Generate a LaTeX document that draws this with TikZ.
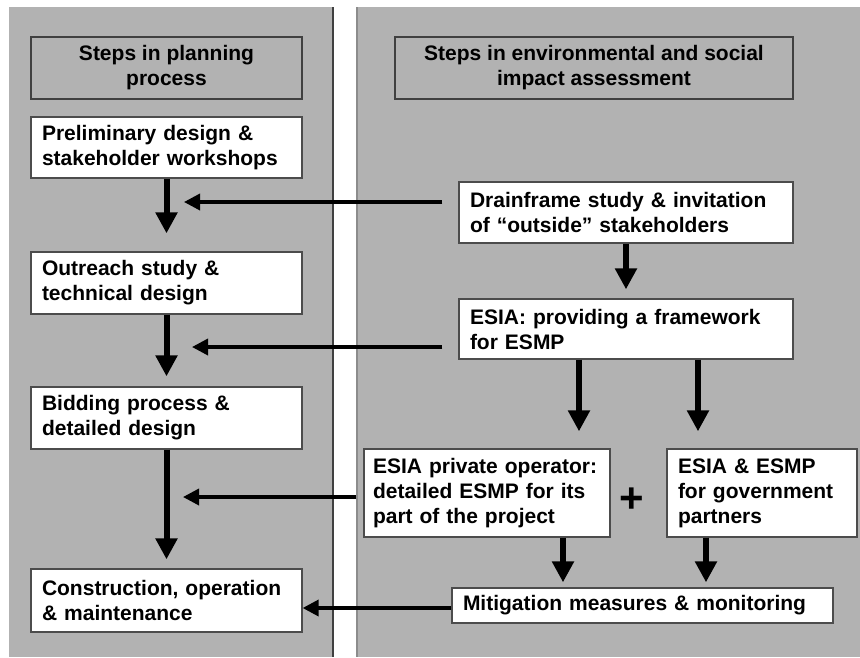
\documentclass[tikz,border=0pt]{standalone}
\usepackage{fontspec}
\setmainfont{Liberation Sans}
\usetikzlibrary{arrows.meta}

\begin{document}
\begin{tikzpicture}[x=1pt, y=-1pt,
  txt/.style={font=\fontsize{21}{25}\selectfont\bfseries},
  headbox/.style={txt, draw=black!75, line width=1.3pt, fill=\panelcolor, align=center, inner xsep=0pt, inner ysep=0pt},
  stepbox/.style={txt, draw=black!70, line width=1.3pt, fill=white, align=left, inner xsep=11pt, inner ysep=0pt},
  bigarrow/.style={line width=6pt, -{Triangle[length=21pt, width=21pt]}},
  sidearrow/.style={line width=3.5pt, -{Triangle[length=16pt, width=16pt]}}]
\def\panelcolor{gray!60}
\useasboundingbox (0,0) rectangle (860,657);

% PANELS
\fill[\panelcolor] (9,7) rectangle (333,657);
\draw[line width=1.5pt, black!75] (333,7) -- (333,657);
\fill[\panelcolor] (357,7) rectangle (860,657);
\draw[line width=1.5pt, black!45] (357,7) -- (357,657);

% LEFT COLUMN
\node[headbox, minimum width=271pt, minimum height=62pt] (hdL) at (166.5,68) {Steps in planning\\process};
\node[stepbox, text width=249pt, minimum height=61pt] (pre) at (166.5,147.5) {Preliminary design \&\\stakeholder workshops};
\node[stepbox, text width=249pt, minimum height=62pt] (out) at (166.5,283) {Outreach study \&\\technical design};
\node[stepbox, text width=249pt, minimum height=62pt] (bid) at (166.5,418) {Bidding process \&\\detailed design};
\node[stepbox, text width=249pt, minimum height=63pt] (con) at (166.5,600.5) {Construction, operation\\\& maintenance};

% RIGHT COLUMN
\node[headbox, minimum width=398pt, minimum height=62pt] (hdR) at (594,68) {Steps in environmental and social\\impact assessment};
\node[stepbox, text width=312pt, minimum height=61pt] (drain) at (626,212.5) {Drainframe study \& invitation\\of “outside” stakeholders};
\node[stepbox, text width=312pt, minimum height=60pt] (esia) at (626,329) {ESIA: providing a framework\\for ESMP};
\node[stepbox, inner xsep=9pt, text width=228pt, minimum height=88pt] (priv) at (487,493) {\mbox{ESIA private operator:}\\detailed ESMP for its\\part of the project};
\node[stepbox, text width=168pt, minimum height=88pt] (gov) at (762,493) {ESIA \& ESMP\\for government\\partners};
\node[font=\fontsize{42}{42}\selectfont\bfseries, inner sep=0pt] (plus) at (632,500) {+};
\node[stepbox, text width=359pt, minimum height=35pt] (mitig) at (642.5,605.5) {Mitigation measures \& monitoring};

% ARROWS DOWN
\draw[bigarrow, shorten >=18pt] (pre) -- (out);
\draw[bigarrow, shorten >=10pt] (out) -- (bid);
\draw[bigarrow, shorten >=9pt] (bid) -- (con);
\draw[bigarrow, shorten >=9pt] (drain) -- (esia);
\draw[bigarrow, shorten >=17pt] ([xshift=-47pt]esia.south) -- ([xshift=-47pt]esia.south |- priv.north);
\draw[bigarrow, shorten >=17pt] ([xshift=72pt]esia.south) -- ([xshift=72pt]esia.south |- gov.north);
\draw[bigarrow, shorten >=5pt] ([xshift=76pt]priv.south) -- ([xshift=76pt]priv.south |- mitig.north);
\draw[bigarrow, shorten >=5pt] ([xshift=-56pt]gov.south) -- ([xshift=-56pt]gov.south |- mitig.north);

% ARROWS ACROSS
\coordinate (t1) at (184,202);
\coordinate (t2) at (192,347);
\coordinate (t3) at (183,497);
\coordinate (t4) at (0,608);
\draw[sidearrow, shorten <=16pt] (drain.west |- t1) -- (t1);
\draw[sidearrow, shorten <=16pt] (esia.west |- t2) -- (t2);
\draw[sidearrow, shorten <=7pt] (priv.west |- t3) -- (t3);
\draw[sidearrow] (mitig.west |- t4) -- (con.east |- t4);
\end{tikzpicture}
\end{document}
